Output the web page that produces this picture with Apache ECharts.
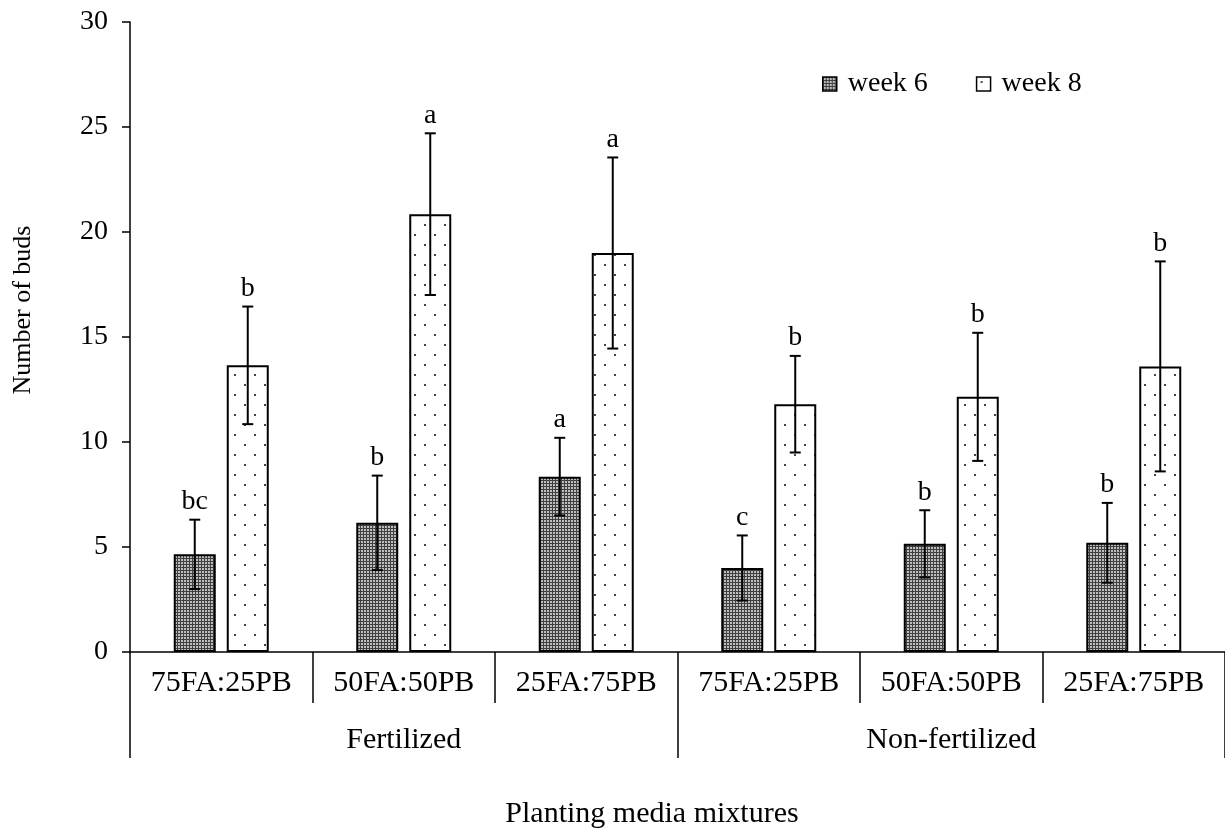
<!DOCTYPE html>
<html>
<head>
<meta charset="utf-8">
<script src="https://cdn.jsdelivr.net/npm/echarts@6/dist/echarts.min.js"></script>
<style>
html,body{margin:0;padding:0;background:#fff;}
#chart{width:1225px;height:832px;}
</style>
</head>
<body>
<div id="chart"></div>
<script>
var categories = ['75FA:25PB','50FA:50PB','25FA:75PB','75FA:25PB','50FA:50PB','25FA:75PB'];
var groups = ['Fertilized','Non-fertilized'];
var week6 = [4.65, 6.15, 8.35, 4.0, 5.15, 5.2];
var week8 = [13.65, 20.85, 19.0, 11.8, 12.15, 13.6];
var err6 = [1.65, 2.25, 1.85, 1.55, 1.6, 1.9];
var err8 = [2.8, 3.85, 4.55, 2.3, 3.05, 5.0];
var letters6 = ['bc','b','a','c','b','b'];
var letters8 = ['b','a','a','b','b','b'];
var yTicks = [0, 5, 10, 15, 20, 25, 30];

var FONT = '"Liberation Serif", "Times New Roman", serif';
var BAR_W = 42, BAR_GAP = 11;

function makeCheck(){
  var c = document.createElement('canvas'); c.width = 3; c.height = 3;
  var g = c.getContext('2d');
  g.fillStyle = '#404040'; g.fillRect(0,0,3,3);
  g.fillStyle = '#bdbdbd'; g.fillRect(1,1,2,2);
  return c;
}
function makeDots(){
  var c = document.createElement('canvas'); c.width = 20; c.height = 20;
  var g = c.getContext('2d');
  g.fillStyle = '#ffffff'; g.fillRect(0,0,20,20);
  g.fillStyle = '#444444';
  g.fillRect(4,4,2,2); g.fillRect(14,14,2,2);
  return c;
}

var chart = echarts.init(document.getElementById('chart'), null, {renderer:'canvas'});

function errData(vals, errs){
  return vals.map(function(v,i){ return [i, v, errs[i]]; });
}
function errRender(sign, letters){
  return function(params, api){
    var i = api.value(0), v = api.value(1), e = api.value(2);
    var letter = letters[params.dataIndex];
    var off = sign * (BAR_W + BAR_GAP) / 2;
    var top = api.coord([i, v + e]);
    var bot = api.coord([i, v - e]);
    var x = top[0] + off;
    var cap = 5.5;
    return {
      type: 'group',
      children: [
        {type:'line', shape:{x1:x, y1:top[1], x2:x, y2:bot[1]}, style:{stroke:'#000', lineWidth:2}},
        {type:'line', shape:{x1:x-cap, y1:top[1], x2:x+cap, y2:top[1]}, style:{stroke:'#000', lineWidth:2}},
        {type:'line', shape:{x1:x-cap, y1:bot[1], x2:x+cap, y2:bot[1]}, style:{stroke:'#000', lineWidth:2}},
        {type:'text', x:x, y:top[1]-4, style:{text:letter, font:'28px ' + FONT, fill:'#000', align:'center', verticalAlign:'bottom'}}
      ]
    };
  };
}

var option = {
  backgroundColor: '#fff',
  animation: false,
  textStyle: {fontFamily: FONT, color:'#000'},
  legend: {
    left: 817, top: 65,
    itemWidth: 14, itemHeight: 14, itemGap: 48,
    icon: 'rect',
    data: ['week 6','week 8'],
    itemStyle: {borderColor:'#000', borderWidth: 1.5},
    textStyle: {fontSize: 28, fontFamily: FONT, color:'#000', padding:[0,0,0,6]}
  },
  grid: {left: 130, right: 0, top: 22, bottom: 180, containLabel: false},
  xAxis: [
    {
      type: 'category', data: categories, position: 'bottom',
      axisLine: {show: true, lineStyle: {color:'#000', width:1.5}},
      axisTick: {show: true, interval: 0, length: 51, lineStyle:{color:'#000', width:1.5}},
      axisLabel: {interval: 0, fontSize: 30, fontFamily: FONT, color:'#000', margin: 16}
    },
    {
      type: 'category', data: groups, position: 'bottom',
      axisLine: {show: false},
      axisTick: {show: true, interval: 0, length: 106, lineStyle:{color:'#000', width:1.5}},
      axisLabel: {interval: 0, fontSize: 30, fontFamily: FONT, color:'#000', margin: 73}
    }
  ],
  yAxis: {
    type: 'value', min: 0, max: 30, interval: 5,
    axisLine: {show: true, lineStyle:{color:'#000', width:1.5}},
    axisTick: {show: true, inside: false, length: 8, lineStyle:{color:'#000', width:1.5}},
    splitLine: {show: false},
    axisLabel: {fontSize: 28, fontFamily: FONT, color:'#000', margin: 22,
      formatter: function(v){ return yTicks.indexOf(v) >= 0 ? String(v) : ''; }}
  },
  graphic: [
    {type:'text', x: 23, y: 310, rotation: Math.PI/2,
      style:{text:'Number of buds', font:'26px ' + FONT, fill:'#000', align:'center', verticalAlign:'middle'}},
    {type:'text', x: 652, y: 814,
      style:{text:'Planting media mixtures', font:'30px ' + FONT, fill:'#000', align:'center', verticalAlign:'middle'}}
  ],
  series: [
    {
      name: 'week 6', type: 'bar', xAxisIndex: 0, data: week6,
      barWidth: BAR_W, barGap: (BAR_GAP / BAR_W * 100) + '%',
      itemStyle: {color: {image: makeCheck(), repeat: 'repeat'}, borderColor:'#000', borderWidth: 2}
    },
    {
      name: 'week 8', type: 'bar', xAxisIndex: 0, data: week8,
      barWidth: BAR_W, barGap: (BAR_GAP / BAR_W * 100) + '%',
      itemStyle: {color: {image: makeDots(), repeat: 'repeat'}, borderColor:'#000', borderWidth: 2}
    },
    {
      type: 'custom', xAxisIndex: 0, data: errData(week6, err6),
      renderItem: errRender(-1, letters6), z: 10, silent: true
    },
    {
      type: 'custom', xAxisIndex: 0, data: errData(week8, err8),
      renderItem: errRender(1, letters8), z: 10, silent: true
    }
  ]
};
chart.setOption(option);
</script>
</body>
</html>
